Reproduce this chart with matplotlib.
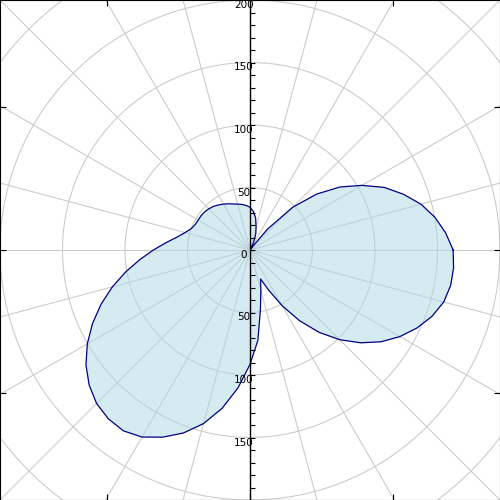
import numpy as np
import matplotlib
matplotlib.use("Agg")
import matplotlib.pyplot as plt
from matplotlib.ticker import MultipleLocator

# polar data (angle in degrees, radius in data units)
angles = [0, 5, 10, 15, 20, 25, 30, 35, 40, 45, 50, 52, 55, 60, 65, 70, 75,
          80, 85, 90, 95, 100, 105, 110, 115, 120, 125, 130, 135, 140, 145, 150,
          155, 160, 165, 170, 175, 180, 185, 190, 195, 200, 205, 210, 215, 220,
          225, 230, 235, 240, 245, 250, 255, 260, 265, 270, 275, 280, 285, 290,
          295, 300, 305, 310, 315, 320, 325, 330, 335, 340, 345, 350, 355]
radii = [162.5, 157.1, 150.3, 141.6, 130.5, 118.5, 103.4, 87.9, 69.6, 48.5, 22.0,
         5.0, 1.0, 2.0, 7.0, 13.5, 18.7,
         26.0, 31.0, 34.2, 35.8, 37.0, 38.0, 39.2, 40.8, 42.4, 44.0, 45.5, 46.6,
         47.4, 47.8, 47.9, 48.3, 50.0, 53.8, 59.3, 67.4, 77.3, 88.5, 101.0,
         114.0, 126.8, 139.0, 150.3, 160.2, 168.0, 173.6, 176.3, 176.6, 172.8,
         165.2, 155.8, 143.8, 128.6, 110.8, 91.5, 72.5, 48.1, 33.6, 24.7,
         35.5, 51.5, 69.0, 86.0, 101.5, 115.5, 128.0, 138.5, 147.5, 155.0,
         160.5, 163.0, 163.5]

rings = [50, 100, 150, 200, 250]
spokes = np.arange(0, 360, 15)
rlim = 200

th = np.deg2rad(np.array(angles + [angles[0]]))
r = np.array(radii + [radii[0]])
x = r * np.cos(th)
y = r * np.sin(th)

fig = plt.figure(figsize=(5, 5), dpi=100)
ax = fig.add_axes([0, 0, 1, 1])
ax.set_xlim(-rlim, rlim)
ax.set_ylim(-rlim, rlim)

# polar grid
t = np.linspace(0, 2 * np.pi, 400)
for rr in rings:
    ax.plot(rr * np.cos(t), rr * np.sin(t), color="#cccccc", lw=0.8, zorder=1)
for a in np.deg2rad(spokes):
    ax.plot([0, 300 * np.cos(a)], [0, 300 * np.sin(a)], color="#cccccc", lw=0.8, zorder=1)

ax.fill(x, y, facecolor="lightblue", alpha=0.5, zorder=2)
ax.plot(x, y, color="navy", lw=0.9, zorder=3)

edge = rlim * 4 / 7
ax.set_xticks([-edge, 0, edge])
ax.set_yticks([-edge, 0, edge])
ax.tick_params(direction="in", length=4, width=0.8, top=True, right=True,
               labelbottom=False, labelleft=False)

# centre axis with radial labels
ax2 = fig.add_axes([0, 0, 1, 1])
ax2.patch.set_visible(False)
ax2.set_xlim(-rlim, rlim)
ax2.set_ylim(-rlim, rlim)
for s in ["top", "right", "bottom"]:
    ax2.spines[s].set_visible(False)
ax2.spines["left"].set_position(("data", 0))
ax2.spines["left"].set_linewidth(1.0)
ax2.set_xticks([])
ax2.yaxis.set_major_locator(MultipleLocator(50))
ax2.yaxis.set_minor_locator(MultipleLocator(10))
ax2.yaxis.set_major_formatter(lambda v, p: f"{abs(v):.0f}")
ax2.tick_params(axis="y", which="both", direction="in", length=3.5, width=0.8,
                labelsize=7.5, pad=4.5)
plt.setp(ax2.get_yticklabels(), ha="center", va="top")

fig.savefig("out.png", dpi=100)
